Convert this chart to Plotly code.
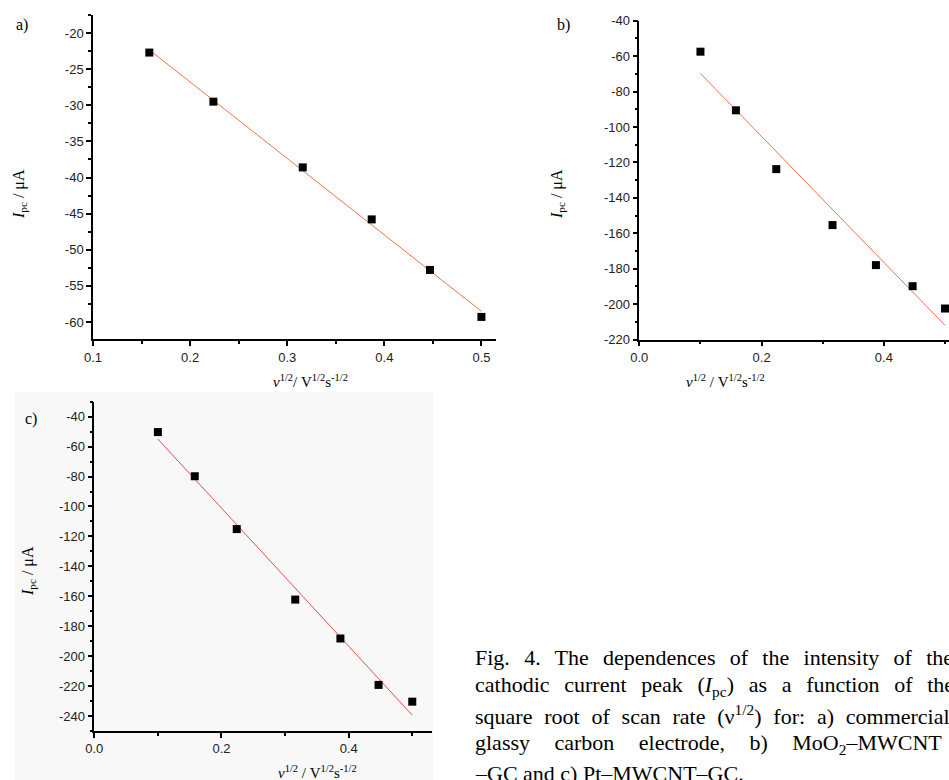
import numpy as np
import plotly.graph_objects as go

# ---------------- data ----------------
x_a = [0.158, 0.224, 0.316, 0.387, 0.447, 0.500]
y_a = [-22.7, -29.5, -38.6, -45.8, -52.8, -59.3]

x_b = [0.100, 0.158, 0.224, 0.316, 0.387, 0.447, 0.500]
y_b = [-57.5, -90.6, -123.8, -155.4, -178.0, -189.9, -202.5]

x_c = [0.100, 0.158, 0.224, 0.316, 0.387, 0.447, 0.500]
y_c = [-50.3, -79.8, -115.1, -162.2, -188.2, -219.2, -230.4]

yticks_a = [-60, -55, -50, -45, -40, -35, -30, -25, -20]
xticks_a = [0.1, 0.2, 0.3, 0.4, 0.5]
yticks_b = [-220, -200, -180, -160, -140, -120, -100, -80, -60, -40]
xticks_b = [0.0, 0.2, 0.4]
yticks_c = [-240, -220, -200, -180, -160, -140, -120, -100, -80, -60, -40]
xticks_c = [0.0, 0.2, 0.4]

panel_labels = ["a)", "b)", "c)"]
caption_lines = [
    "Fig. 4. The dependences of the intensity of the",
    "cathodic current peak (<i>I</i><sub>pc</sub>) as a function of the",
    "square root of scan rate (ν<sup>1/2</sup>) for: a) commercial",
    "glassy carbon electrode, b) MoO<sub>2</sub>–MWCNT",
    "–GC and c) Pt–MWCNT–GC.",
]
caption_word_extra = [8.8, 9.2, 6.3, 19.0, 0.0]   # justified spacing (px)

W, H = 949, 780
def px(x):
    return x / W
def py(y):
    return 1 - y / H

fig = go.Figure()

# light background of panel c
fig.add_shape(type="rect", xref="paper", yref="paper",
              x0=px(15), x1=px(433), y0=py(780), y1=py(392),
              fillcolor="#f8f8f8", line=dict(width=0), layer="below")

def add_panel(xs, ys, xa, ya, line_color):
    k, b = np.polyfit(xs, ys, 1)
    xf = np.array([min(xs), max(xs)])
    fig.add_trace(go.Scatter(x=xf, y=k * xf + b, mode="lines",
                             line=dict(color=line_color, width=1),
                             xaxis=xa, yaxis=ya, showlegend=False, hoverinfo="skip"))
    fig.add_trace(go.Scatter(x=xs, y=ys, mode="markers", cliponaxis=False,
                             marker=dict(symbol="square", size=8, color="black"),
                             xaxis=xa, yaxis=ya, showlegend=False))

add_panel(x_a, y_a, "x", "y", "#f4704a")
add_panel(x_b, y_b, "x2", "y2", "#f4704a")
add_panel(x_c, y_c, "x3", "y3", "#ec4b4b")

tickfont = dict(family="Liberation Sans, Arial", size=13, color="#222")
common = dict(showline=True, linecolor="black", linewidth=1.5, ticks="outside",
              ticklen=5, tickwidth=1.5, tickcolor="black", showgrid=False,
              zeroline=False, tickfont=tickfont, mirror=False, automargin=False,
              tickmode="array")

def minor(d, t0):
    return dict(ticks="outside", ticklen=3, tickwidth=1.5, tickcolor="black",
                dtick=d, tick0=t0, showgrid=False)

def lab(vals, fmt):
    return [format(v, fmt) for v in vals]

fig.update_layout(
    template="none",
    width=W, height=H, margin=dict(l=0, r=0, t=0, b=0),
    paper_bgcolor="white", plot_bgcolor="rgba(0,0,0,0)",
    xaxis=dict(domain=[px(93), px(496)], range=[0.1, 0.515],
               tickvals=xticks_a, ticktext=lab(xticks_a, ".1f"),
               anchor="y", minor=minor(0.05, 0.1), **common),
    yaxis=dict(domain=[py(339.3), py(15)], range=[-62.4, -17.5],
               tickvals=yticks_a, ticktext=lab(yticks_a, "d"),
               anchor="x", minor=minor(2.5, 0), **common),
    xaxis2=dict(domain=[px(639.3), 1.0], range=[0, 0.5065],
                tickvals=xticks_b, ticktext=lab(xticks_b, ".1f"),
                anchor="y2", minor=minor(0.1, 0), **common),
    yaxis2=dict(domain=[py(339.5), py(20.7)], range=[-220, -40],
                tickvals=yticks_b, ticktext=lab(yticks_b, "d"),
                anchor="x2", minor=minor(10, 0), **common),
    xaxis3=dict(domain=[px(94.3), px(432.3)], range=[0, 0.5315],
                tickvals=xticks_c, ticktext=lab(xticks_c, ".1f"),
                anchor="y3", minor=minor(0.1, 0), **common),
    yaxis3=dict(domain=[py(731), py(401.7)], range=[-250, -30],
                tickvals=yticks_c, ticktext=lab(yticks_c, "d"),
                anchor="x3", minor=minor(10, 0), **common),
)

serif = "Liberation Serif, Times New Roman, serif"
ytitle = "<i>I</i><sub>pc</sub> / μA"
xtitle_a = "<i>ν</i><sup>1/2</sup>/ V<sup>1/2</sup>s<sup>-1/2</sup>"
xtitle_bc = "<i>ν</i><sup>1/2</sup> / V<sup>1/2</sup>s<sup>-1/2</sup>"

def ann(x, y, text, size=15, angle=0, xanchor="center"):
    fig.add_annotation(x=px(x), y=py(y), xref="paper", yref="paper", text=text,
                       showarrow=False, textangle=angle, xanchor=xanchor, yanchor="middle",
                       font=dict(family=serif, size=size, color="black"))

# axis titles
ann(19, 194, ytitle, 16, -90)
ann(557, 194, ytitle, 16, -90)
ann(28, 571, ytitle, 16, -90)
ann(310, 381, xtitle_a, 15)
ann(725, 381, xtitle_bc, 15)
ann(317, 772, xtitle_bc, 15)

# panel labels
ann(22, 25, panel_labels[0], 16)
ann(563, 25, panel_labels[1], 16)
ann(31, 419, panel_labels[2], 16)

# caption (justified via word-spacing)
for i, line in enumerate(caption_lines):
    txt = '<span style="word-spacing:%.1fpx">%s</span>' % (caption_word_extra[i], line)
    ann(473, 657 + i * 29, txt, 22, 0, xanchor="left")

fig.write_html("out.html", config={"displayModeBar": False},
               post_script="document.body.style.margin='0';")
